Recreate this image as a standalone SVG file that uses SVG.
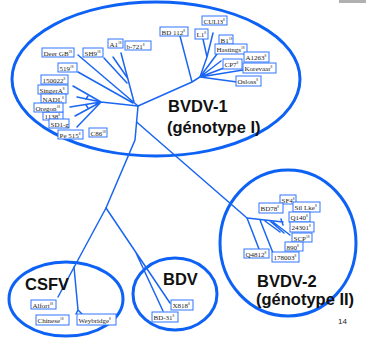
<svg xmlns="http://www.w3.org/2000/svg" width="366" height="338" viewBox="0 0 366 338">
<style>
.clade{fill:none;stroke:#0d62f5;stroke-width:3}
.br{fill:none;stroke:#1a66f2;stroke-width:1.5;stroke-linecap:round}
.box{fill:#fff;stroke:#2f74ff;stroke-width:1}
.lt{font-family:"Liberation Serif","Times New Roman",serif;font-size:7px;fill:#222}
.sup{font-size:3.5px}
.big{font-family:"Liberation Sans",Arial,sans-serif;font-weight:bold;font-size:16.5px;fill:#111}
.pg{font-family:"Liberation Sans",Arial,sans-serif;font-size:8px;fill:#222}
</style>
<rect x="0" y="0" width="366" height="338" fill="#fff"/>
<rect x="339" y="0" width="27" height="3" fill="#b0b0b0"/>

<g id="clades">
<ellipse id="bvdv1-ellipse" class="clade" cx="156" cy="79" rx="144" ry="77"/>
<ellipse id="bvdv2-ellipse" class="clade" cx="288" cy="243" rx="68" ry="73"/>
<ellipse id="csfv-ellipse" class="clade" cx="66" cy="299" rx="57" ry="37"/>
<ellipse id="bdv-ellipse" class="clade" cx="175" cy="294" rx="42" ry="36"/>
</g>

<g id="connectors">
<path class="br" d="M138,106 L135,140 L106,208"/>
<path class="br" d="M136.6,122 L247,218"/>
<path class="br" d="M106,208 L58,297"/>
<path class="br" d="M74,267 L78,310 M78,310 L76,314 M78,310 L82,314"/>
<path class="br" d="M106,208 L170,303 M135.6,252 L163,311"/>
<path class="br" d="M138,106 L192,82 L180,36 M192,82 L200,77 L207,57 L203,39 M207,57 L213,33"/>
<path class="br" d="M200,77 L217,54 M200,77 L221,61 M200,77 L224,68 M200,77 L243,70 M200,77 L237,82"/>
<path class="br" d="M138,106 L78,55 M134,102 L121,53 M127.5,78 L113,57 M127,83 L104,58 M133,103 L78,72"/>
<path class="br" d="M138,106 L101,102 M101,102 L73,86 M101,102 L77,97 M101,102 L70,107 M101,102 L75,116 M101,102 L77,127"/>
<path class="br" d="M86,99 L88,96 M86,105 L88,108"/>
<path class="br" d="M247,218 L283,222 M281,219 L283,225 M247,218 L259,249 M260,220 L273,253 M265,221 L280,232 M270,221 L284,233 M273,222 L290,235"/>
</g>

<g id="n-deer"><rect class="box" x="42" y="48" width="32" height="9"/><text class="lt" x="43.5" y="55.5">Deer GB<tspan class="sup" dy="-3">18</tspan></text></g>
<g id="n-sh9"><rect class="box" x="83" y="48" width="20" height="9"/><text class="lt" x="84.5" y="55.5">SH9<tspan class="sup" dy="-3">18</tspan></text></g>
<g id="n-a1"><rect class="box" x="108" y="39" width="15" height="9"/><text class="lt" x="109.5" y="46.5">A1<tspan class="sup" dy="-3">18</tspan></text></g>
<g id="n-b721"><rect class="box" x="125" y="41" width="26" height="9"/><text class="lt" x="126.5" y="48.5">b-721<tspan class="sup" dy="-3">8</tspan></text></g>
<g id="n-bd112"><rect class="box" x="160" y="27" width="28" height="9"/><text class="lt" x="161.5" y="34.5">BD 112<tspan class="sup" dy="-3">8</tspan></text></g>
<g id="n-cul"><rect class="box" x="202" y="16" width="25" height="9"/><text class="lt" x="203.5" y="23.5">CULl3<tspan class="sup" dy="-3">8</tspan></text></g>
<g id="n-l1"><rect class="box" x="195" y="29" width="13" height="10"/><text class="lt" x="196.5" y="37">L1<tspan class="sup" dy="-3">8</tspan></text></g>
<g id="n-b1"><rect class="box" x="219" y="35" width="14" height="9"/><text class="lt" x="220.5" y="42.5">B1<tspan class="sup" dy="-3">18</tspan></text></g>
<g id="n-hastings"><rect class="box" x="215" y="44" width="32" height="10"/><text class="lt" x="216.5" y="52">Hastings<tspan class="sup" dy="-3">18</tspan></text></g>
<g id="n-a1263"><rect class="box" x="244" y="52" width="25" height="10"/><text class="lt" x="245.5" y="60">A1263<tspan class="sup" dy="-3">8</tspan></text></g>
<g id="n-cp7"><rect class="box" x="223" y="59" width="19" height="10"/><text class="lt" x="224.5" y="67">CP7<tspan class="sup" dy="-3">8</tspan></text></g>
<g id="n-korevaar"><rect class="box" x="243" y="63" width="33" height="10"/><text class="lt" x="244.5" y="71">Korevaar<tspan class="sup" dy="-3">8</tspan></text></g>
<g id="n-osloss"><rect class="box" x="236" y="76" width="25" height="10"/><text class="lt" x="237.5" y="84">Osloss<tspan class="sup" dy="-3">8</tspan></text></g>
<g id="n-519"><rect class="box" x="58" y="63" width="19" height="9"/><text class="lt" x="59.5" y="70.5">519<tspan class="sup" dy="-3">18</tspan></text></g>
<g id="n-150022"><rect class="box" x="41" y="75" width="27" height="9"/><text class="lt" x="42.5" y="82.5">150022<tspan class="sup" dy="-3">8</tspan></text></g>
<g id="n-singer"><rect class="box" x="38" y="85" width="30" height="9"/><text class="lt" x="39.5" y="92.5">SingerA<tspan class="sup" dy="-3">8</tspan></text></g>
<g id="n-nadl"><rect class="box" x="41" y="94" width="25" height="9"/><text class="lt" x="42.5" y="101.5">NADL<tspan class="sup" dy="-3">8</tspan></text></g>
<g id="n-1138"><rect class="box" x="43" y="112" width="20" height="8"/><text class="lt" x="44.5" y="119">1138<tspan class="sup" dy="-3">8</tspan></text></g>
<g id="n-oregon"><rect class="box" x="34" y="103" width="29" height="9"/><text class="lt" x="35.5" y="110.5">Oregon<tspan class="sup" dy="-3">18</tspan></text></g>
<g id="n-sd1"><rect class="box" x="49" y="119" width="20" height="9"/><text class="lt" x="50.5" y="126.5">SD1-g</text></g>
<g id="n-pe515"><rect class="box" x="58" y="130" width="25" height="9"/><text class="lt" x="59.5" y="137.5">Pe 515<tspan class="sup" dy="-3">8</tspan></text></g>
<g id="n-c86"><rect class="box" x="89" y="128" width="18" height="9"/><text class="lt" x="90.5" y="135.5">C86<tspan class="sup" dy="-3">18</tspan></text></g>

<g id="n-sf4"><rect class="box" x="280" y="195" width="16" height="9"/><text class="lt" x="281.5" y="202.5">SF4<tspan class="sup" dy="-3">8</tspan></text></g>
<g id="n-bd78"><rect class="box" x="259" y="203" width="24" height="10"/><text class="lt" x="260.5" y="211">BD78<tspan class="sup" dy="-3">8</tspan></text></g>
<g id="n-sil"><rect class="box" x="293" y="202" width="27" height="10"/><text class="lt" x="294.5" y="210">Sil Lke<tspan class="sup" dy="-3">8</tspan></text></g>
<g id="n-q140"><rect class="box" x="289" y="212" width="21" height="10"/><text class="lt" x="290.5" y="220">Q140<tspan class="sup" dy="-3">8</tspan></text></g>
<g id="n-24301"><rect class="box" x="290" y="222" width="24" height="10"/><text class="lt" x="291.5" y="230">24301<tspan class="sup" dy="-3">8</tspan></text></g>
<g id="n-scp"><rect class="box" x="292" y="233" width="20" height="9"/><text class="lt" x="293.5" y="240.5">SCP<tspan class="sup" dy="-3">18</tspan></text></g>
<g id="n-890"><rect class="box" x="285" y="242" width="18" height="9"/><text class="lt" x="286.5" y="249.5">890<tspan class="sup" dy="-3">8</tspan></text></g>
<g id="n-q4812"><rect class="box" x="244" y="249" width="25" height="9"/><text class="lt" x="245.5" y="256.5">Q4812<tspan class="sup" dy="-3">8</tspan></text></g>
<g id="n-178003"><rect class="box" x="272" y="252" width="27" height="10"/><text class="lt" x="273.5" y="260">178003<tspan class="sup" dy="-3">8</tspan></text></g>

<g id="n-alfort"><rect class="box" x="31" y="300" width="25" height="9"/><text class="lt" x="32.5" y="307.5">Alfort<tspan class="sup" dy="-3">18</tspan></text></g>
<g id="n-chinese"><rect class="box" x="36" y="315" width="33" height="10"/><text class="lt" x="37.5" y="323">Chinese<tspan class="sup" dy="-3">18</tspan></text></g>
<g id="n-weybridge"><rect class="box" x="77" y="314" width="39" height="11"/><text class="lt" x="78.5" y="322.5">Weybridge<tspan class="sup" dy="-3">8</tspan></text></g>
<g id="n-x818"><rect class="box" x="171" y="300" width="22" height="10"/><text class="lt" x="172.5" y="308">X818<tspan class="sup" dy="-3">8</tspan></text></g>
<g id="n-bd31"><rect class="box" x="152" y="312" width="26" height="10"/><text class="lt" x="153.5" y="320">BD-31<tspan class="sup" dy="-3">8</tspan></text></g>

<g id="titles">
<text class="big" x="168" y="112">BVDV-1</text>
<text class="big" x="167" y="133">(génotype I)</text>
<text class="big" x="257" y="287">BVDV-2</text>
<text class="big" x="256" y="305">(génotype II)</text>
<text class="big" x="25" y="290">CSFV</text>
<text class="big" x="163" y="285">BDV</text>
<text class="pg" x="338" y="324">14</text>
</g>
</svg>
